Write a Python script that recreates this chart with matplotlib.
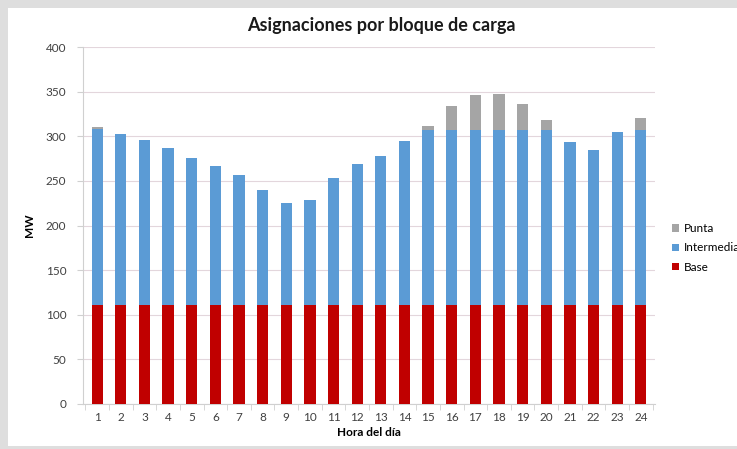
import numpy as np
import matplotlib.pyplot as plt
from matplotlib.patches import Rectangle

plt.rcParams['font.family'] = ['Lato', 'DejaVu Sans']

horas = list(range(1, 25))
base = [111] * 24
intermedia = [197, 192, 185, 176, 165, 156, 146, 129, 114, 118, 142, 158,
              167, 184, 196, 196, 196, 196, 196, 196, 183, 174, 194, 196]
punta = [2, 0, 0, 0, 0, 0, 0, 0, 0, 0, 0, 0,
         0, 0, 5, 27, 39, 40, 29, 11, 0, 0, 0, 14]

c_base = '#c00000'
c_inter = '#5b9bd5'
c_punta = '#a5a5a5'

fig = plt.figure(figsize=(7.37, 4.49), dpi=100)
fig.patch.set_facecolor('#dedede')
fig.patches.append(Rectangle((8 / 737, 3 / 449), 1, 1 - 11 / 449, transform=fig.transFigure,
                             facecolor='white', edgecolor='none', zorder=-5))

ax = fig.add_axes([83 / 737, 1 - 404 / 449, 572 / 737, 357 / 449])
ax.set_facecolor('white')

x = np.array(horas)
bottom2 = np.array(base) + np.array(intermedia)
w = 0.48
ax.bar(x, base, width=w, color=c_base, label='Base', zorder=3)
ax.bar(x, intermedia, width=w, bottom=base, color=c_inter, label='Intermedia', zorder=3)
ax.bar(x, punta, width=w, bottom=bottom2, color=c_punta, label='Punta', zorder=3)

ax.set_xlim(0.4, 24.6)
ax.set_ylim(0, 400)
ax.set_yticks(range(0, 401, 50))
ax.set_xticks(horas)
ax.set_xticks(np.arange(0.5, 25, 1), minor=True)
ax.yaxis.grid(True, color='#e3d6dc', linewidth=0.8, zorder=0)
for s in ['top', 'right']:
    ax.spines[s].set_visible(False)
for s in ['left', 'bottom']:
    ax.spines[s].set_color('#d0d0d0')
ax.tick_params(axis='y', length=0, labelsize=8.5, colors='#404040', pad=8)
ax.tick_params(axis='x', which='major', length=0, labelsize=8.5, colors='#404040', pad=6)
ax.tick_params(axis='x', which='minor', length=4, color='#d0d0d0')
ax.tick_params(axis='y', which='major', left=True, length=4, color='#d0d0d0')

fig.text(381 / 737, 1 - 26 / 449, 'Asignaciones por bloque de carga', fontsize=13,
         fontweight='bold', ha='center', va='center', color='#1a1a1a')
ax.set_xlabel('Hora del día', fontsize=8.5, fontweight='bold', labelpad=3)
ax.set_ylabel('MW', fontsize=8.5, fontweight='bold', labelpad=8)

h, l = ax.get_legend_handles_labels()
ax.legend(h[::-1], l[::-1], loc='center left', bbox_to_anchor=(672 / 737, 1 - 248 / 449),
          bbox_transform=fig.transFigure, frameon=False, fontsize=8.5,
          handlelength=0.6, handleheight=0.6, handletextpad=0.4, labelspacing=0.7,
          borderpad=0, borderaxespad=0)

fig.savefig('out.png', dpi=100)
